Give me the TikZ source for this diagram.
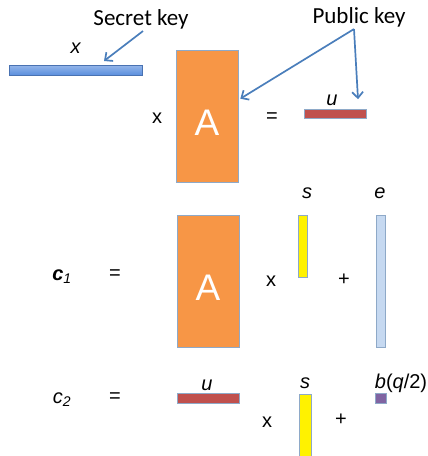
\documentclass[tikz,border=0pt]{standalone}
\usepackage{fontspec}
\setmainfont{Liberation Sans}
\newfontfamily\callout{Carlito}
\usetikzlibrary{calc}
\usetikzlibrary{arrows.meta}

\definecolor{keyblue}{HTML}{4A7EBB}
\definecolor{barblue}{HTML}{5B8FDE}
\definecolor{matorange}{HTML}{F79646}
\definecolor{vecred}{HTML}{C0504D}
\definecolor{errblue}{HTML}{C6D9F1}
\definecolor{msgpurple}{HTML}{8064A2}
\definecolor{rimblue}{HTML}{8EA9C8}

\begin{document}
\begin{tikzpicture}[x=1pt,y=-1pt,
	bar/.style={draw=rimblue, line width=0.6pt, inner sep=0pt, rectangle},
	lbl/.style={inner sep=0pt, font=\fontsize{20}{24}\selectfont},
	callouttext/.style={inner sep=0pt, font=\callout\fontsize{23}{27}\selectfont},
	keyarrow/.style={draw=keyblue, line width=1.7pt, -{Straight Barb[length=6pt,width=11pt]}}]
			\useasboundingbox (0,0) rectangle (428,456);

			% key = x A = u
			\node[bar, draw=barblue!80!black, top color=barblue!65!white, bottom color=barblue,
				minimum width=133pt, minimum height=10pt] (xbar) at (75.5,70) {};
			\node[lbl] (xlab) at (76,48) {\textit{x}};
			\node[lbl] (times1) at (157,118) {x};
			\node[bar, fill=matorange, minimum width=62pt, minimum height=132pt] (A1) at (207,116) {};
			\node[lbl, text=white, font=\fontsize{37}{40}\selectfont] (A1lab) at (207,123) {A};
			\node[lbl] (eq1) at (272,118) {=};
			\node[bar, fill=vecred, minimum width=62pt, minimum height=9pt] (ubar1) at (335,114) {};
			\node[lbl] (ulab1) at (332,100) {\textit{u}};

			% c1 = A s + e
			\node[lbl] (c1) at (62,277) {\textbf{\textit{c}}\textsubscript{\textit{1}}};
			\node[lbl] (eq2) at (115,275) {=};
			\node[bar, fill=matorange, minimum width=62pt, minimum height=132pt] (A2) at (208,281) {};
			\node[lbl, text=white, font=\fontsize{37}{40}\selectfont] (A2lab) at (208,288) {A};
			\node[lbl] (times2) at (271,281) {x};
			\node[bar, fill=yellow, minimum width=9pt, minimum height=62pt] (sbar1) at (302.5,246) {};
			\node[lbl] (slab1) at (307,193) {\textit{s}};
			\node[lbl] (plus1) at (344,280) {+};
			\node[bar, fill=errblue, minimum width=9pt, minimum height=132pt] (ebar) at (380.5,281) {};
			\node[lbl] (elab) at (380,193) {\textit{e}};

			% c2 = u s + b(q/2)
			\node[lbl] (c2) at (62,400) {\textit{c}\textsubscript{\textit{2}}};
			\node[lbl] (eq3) at (115,398) {=};
			\node[bar, fill=vecred, minimum width=62pt, minimum height=10pt] (ubar2) at (208,398) {};
			\node[lbl] (ulab2) at (207,385) {\textit{u}};
			\node[lbl] (times3) at (267,422) {x};
			\node[bar, fill=yellow, minimum width=12pt, minimum height=62pt] (sbar2) at (305,425) {};
			\node[lbl] (slab2) at (305,383) {\textit{s}};
			\node[lbl] (plus2) at (341,420) {+};
			\node[bar, fill=msgpurple, minimum width=11pt, minimum height=10pt] (bsq) at (380.5,398) {};
			\node[lbl] (blab) at (401,383) {\textit{b}(\textit{q}/2)};

			% callouts
			\node[callouttext] (secret) at (141,19) {Secret key};
			\node[callouttext] (public) at (359,17) {Public key};
			\coordinate (sktail) at ($(secret.south)+(2,2)$);
			\coordinate (skhead) at (104,61);
			\coordinate (pkfork) at ($(public.south)+(-5,2)$);
			\coordinate (pkA) at ($(A1.north east)+(2,49)$);
			\coordinate (pku) at ($(ubar1.north)+(23,-10)$);

			\draw[keyarrow] (sktail) -- (skhead);
			\draw[keyarrow] (pkfork) -- (pkA);
			\draw[keyarrow] (pkfork) -- (pku);
		\end{tikzpicture}
\end{document}
